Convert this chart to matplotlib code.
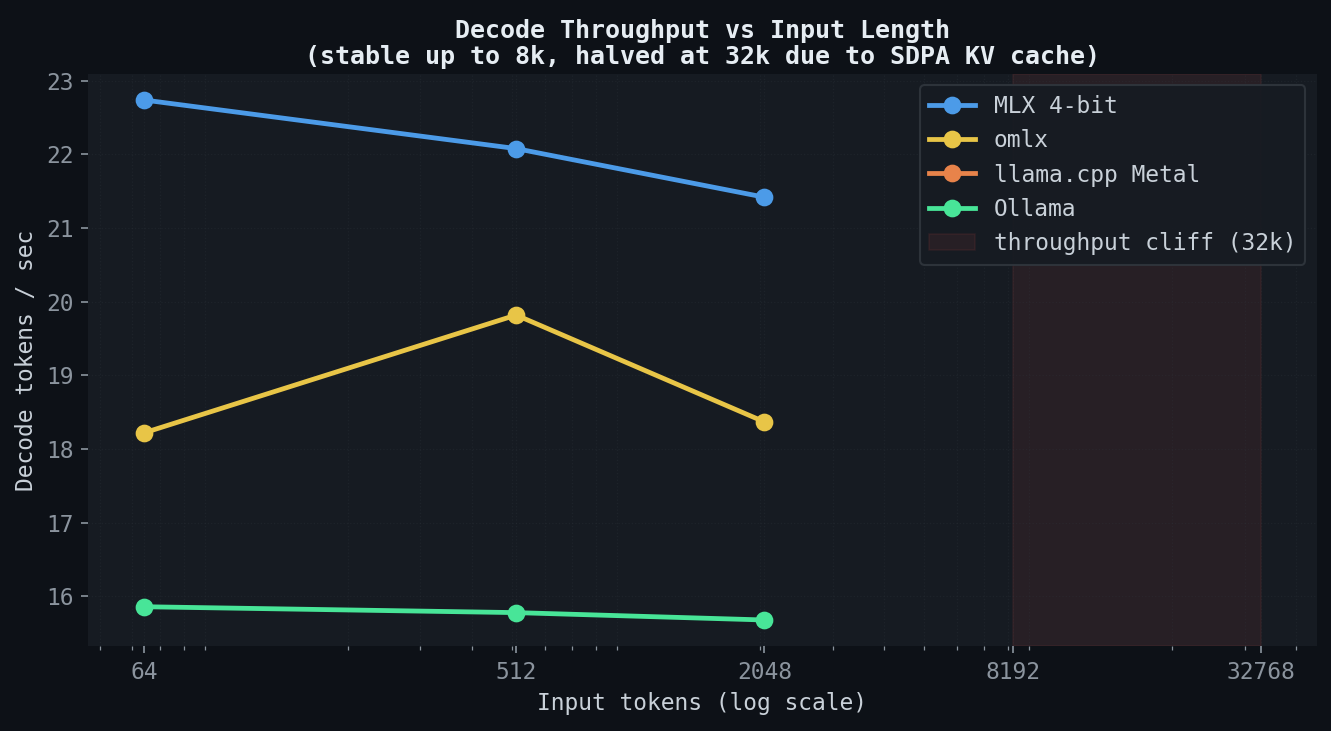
import numpy as np
import matplotlib
matplotlib.use('Agg')
import matplotlib.pyplot as plt

# decode throughput per input length
ctx = [64, 512, 2048]
mlx = [22.74, 22.08, 21.42]
omlx = [18.22, 19.82, 18.37]
llama = [np.nan, np.nan, np.nan]  # no data points
ollama = [15.86, 15.78, 15.68]
ticks = [64, 512, 2048, 8192, 32768]
cliff = (8192, 32768)

BG = '#0d1117'
AX = '#161b22'
plt.rcParams['font.family'] = ['DejaVu Sans Mono']

fig = plt.figure(figsize=(1331 / 150, 731 / 150), dpi=150, facecolor=BG)
ax = fig.add_axes([0.0661, 0.1163, 0.9231, 0.7825])
ax.set_facecolor(AX)

series = [('MLX 4-bit', mlx, '#4c9be8'), ('omlx', omlx, '#e8c547'),
          ('llama.cpp Metal', llama, '#e8834a'), ('Ollama', ollama, '#48e598')]
for name, vals, col in series:
    ax.plot(ctx, vals, '-o', color=col, lw=2.3, ms=7.5, label=name)

ax.axvspan(cliff[0], cliff[1], facecolor='#f85149', alpha=0.08, edgecolor='#f85149', lw=0.8,
           label='throughput cliff (32k)')

ax.set_xscale('log')
ax.set_xticks(ticks)
ax.set_xticklabels([str(t) for t in ticks])
ax.tick_params(colors='#8b949e', labelsize=11)
ax.tick_params(which='minor', colors='#8b949e')
for s in ax.spines.values():
    s.set_visible(False)
ax.grid(True, which='both', color='#30363d', alpha=0.3, lw=0.6, ls=':')

ax.set_xlabel('Input tokens (log scale)', color='#c9d1d9', fontsize=11)
ax.set_ylabel('Decode tokens / sec', color='#c9d1d9', fontsize=11)
ax.set_title('Decode Throughput vs Input Length\n(stable up to 8k, halved at 32k due to SDPA KV cache)',
             color='#e6edf3', fontsize=12, fontweight='bold', linespacing=1.1, pad=5)

leg = ax.legend(loc='upper right', facecolor=AX, edgecolor='#30363d', fontsize=11, framealpha=0.9)
for t in leg.get_texts():
    t.set_color('#c9d1d9')

fig.savefig('out.png', dpi=150, facecolor=BG)
